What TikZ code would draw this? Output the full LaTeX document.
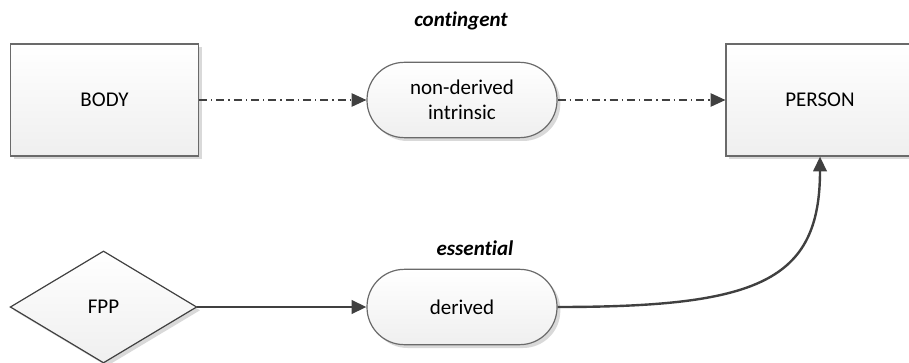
\documentclass[tikz,border=0pt]{standalone}
\usepackage{fontspec}
\setmainfont[Ligatures=NoCommon]{Carlito}
\usetikzlibrary{shapes.geometric,shadows,arrows.meta}
\definecolor{linecol}{HTML}{404040}
\definecolor{bordercol}{HTML}{6A6A6A}
\definecolor{shadecol}{HTML}{EFEFEF}
\definecolor{shadowcol}{HTML}{D9D9D9}
\tikzset{
  base/.style={draw=bordercol, line width=0.9pt, top color=white, bottom color=shadecol,
    font=\fontsize{15.75}{18.75}\selectfont, align=center, inner sep=0pt,
    drop shadow={shadow xshift=2.5pt, shadow yshift=-2.5pt, fill=shadowcol, opacity=1}},
  boxnode/.style={base, rectangle, minimum width=141pt, minimum height=84pt},
  pill/.style={base, rectangle, rounded corners=28pt, minimum width=142.5pt, minimum height=56.5pt},
  dia/.style={base, diamond, draw=linecol, minimum width=140pt, minimum height=84pt},
  lbl/.style={font=\fontsize{15.75}{18.75}\selectfont\bfseries\itshape},
  dd/.style={draw=linecol, line width=0.8pt, dash pattern=on 6pt off 3pt on 1pt off 3pt,
    -{Triangle[length=11pt,width=10pt]}},
  solidarrow/.style={draw=linecol, line width=1.8pt, -{Triangle[length=11pt,width=10pt]}}
}
\begin{document}
\begin{tikzpicture}[x=0.75pt, y=-0.75pt]
\useasboundingbox (0,0) rectangle (909,363);
\clip (0,0) rectangle (909,363);
\node[boxnode] (body) at (104.5,100) {BODY};
\node[pill] (nd) at (462,100) {non-derived\\intrinsic};
\node[boxnode] (person) at (820,100) {PERSON};
\node[dia] (fpp) at (103.5,307) {FPP};
\node[pill] (der) at (462,307) {derived};
\node[lbl] (cont) at (461,21) {contingent};
\node[lbl] (ess) at (475,248) {essential};
\draw[dd] (body.east) -- (nd.west);
\draw[dd] (nd.east) -- (person.west);
\draw[solidarrow] (fpp.east) -- (der.west);
\draw[solidarrow] (der.east) .. controls +(200,0) and +(0,125) .. (person.south);
\end{tikzpicture}
\end{document}
